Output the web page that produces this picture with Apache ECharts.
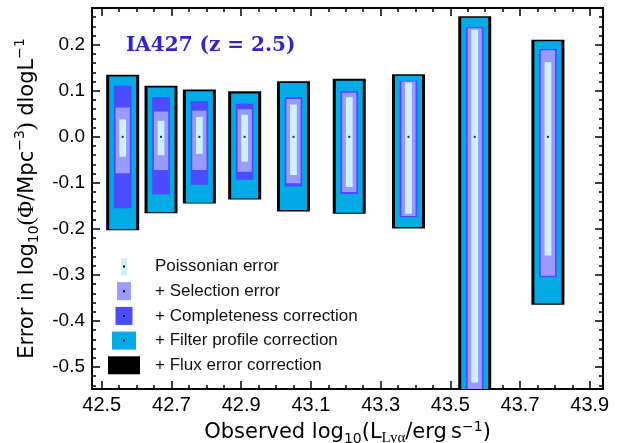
<!DOCTYPE html>
<html>
<head>
<meta charset="utf-8">
<script src="https://cdn.jsdelivr.net/npm/echarts@6/dist/echarts.min.js"></script>
<style>
  html, body { margin: 0; padding: 0; background: #fff; }
  #chart { width: 620px; height: 443px; }
</style>
</head>
<body>
<div id="chart"></div>
<script>
// Luminosity bin centres, log10(L / erg s^-1)
const binCenters = [42.56, 42.67, 42.78, 42.91, 43.05, 43.21, 43.38, 43.57, 43.78];

// Cumulative error budgets (upper / lower) in log10(Phi)
const poissonUp   = [0.038, 0.035, 0.043, 0.048, 0.070, 0.086, 0.118, 0.233, 0.162];
const poissonLow  = [-0.043, -0.040, -0.037, -0.054, -0.083, -0.109, -0.167, -0.534, -0.258];
const selectionUp  = [0.064, 0.055, 0.057, 0.060, 0.082, 0.096, 0.120, 0.236, 0.188];
const selectionLow = [-0.079, -0.072, -0.072, -0.076, -0.101, -0.120, -0.172, -0.600, -0.302];
const completenessUp  = [0.111, 0.086, 0.078, 0.072, 0.086, 0.099, 0.122, 0.238, 0.191];
const completenessLow = [-0.155, -0.125, -0.104, -0.093, -0.108, -0.124, -0.175, -0.620, -0.305];
const filterUp  = [0.131, 0.107, 0.099, 0.094, 0.117, 0.122, 0.133, 0.259, 0.208];
const filterLow = [-0.201, -0.164, -0.143, -0.134, -0.159, -0.165, -0.196, -0.700, -0.362];
const fluxUp  = [0.135, 0.111, 0.103, 0.099, 0.121, 0.126, 0.136, 0.262, 0.211];
const fluxLow = [-0.203, -0.166, -0.145, -0.136, -0.162, -0.167, -0.199, -0.720, -0.365];

// Axis tick labels
const xTickLabels = [42.5, 42.7, 42.9, 43.1, 43.3, 43.5, 43.7, 43.9];
const yTickLabels = [-0.5, -0.4, -0.3, -0.2, -0.1, 0.0, 0.1, 0.2];

const layerNames = [
  'Poissonian error',
  '+ Selection error',
  '+ Completeness correction',
  '+ Filter profile correction',
  '+ Flux error correction'
];
const panelTitle = 'IA427 (z = 2.5)';

// ---- styling ----
const X_MIN = 42.472, X_MAX = 43.938;
const Y_MIN = -0.548, Y_MAX = 0.280;
const SANS = '"Liberation Sans", Arial, Helvetica, sans-serif';
const WIDE_SANS = '"DejaVu Sans", "Liberation Sans", sans-serif';
const SERIF = '"Liberation Serif", "Times New Roman", serif';

// drawn back to front: widest (flux) first
const layers = [
  { name: layerNames[4], up: fluxUp, low: fluxLow, color: '#000000', halfW: 16.5, legendW: 32 },
  { name: layerNames[3], up: filterUp, low: filterLow, color: '#00abe6', halfW: 13.5, legendW: 24 },
  { name: layerNames[2], up: completenessUp, low: completenessLow, color: '#4b4bff', halfW: 8.8, legendW: 17 },
  { name: layerNames[1], up: selectionUp, low: selectionLow, color: '#9a9aff', halfW: 7.1, legendW: 14 },
  { name: layerNames[0], up: poissonUp, low: poissonLow, color: '#cdf2fe', halfW: 3.4, legendW: 6 }
];

function minorSteps(lo, hi, step) {
  const out = [];
  const start = Math.ceil(lo / step) * step;
  for (let v = start; v <= hi + 1e-9; v += step) out.push(Math.round(v * 1000) / 1000);
  return out;
}
const xMinor = minorSteps(X_MIN, X_MAX, 0.05);
const yMinor = minorSteps(Y_MIN, Y_MAX, 0.02);

const tickLine = { color: '#000', width: 1.5 };
const frameLine = { color: '#000', width: 2 };

function xAxis(pos, ticks, len, withLabels, extra) {
  return Object.assign({
    type: 'value', gridIndex: 0, position: pos, min: X_MIN, max: X_MAX,
    axisLine: { show: true, onZero: false, lineStyle: frameLine },
    axisTick: { show: true, inside: true, length: len, customValues: ticks, lineStyle: tickLine },
    axisLabel: withLabels ? {
      show: true, customValues: ticks, margin: 6, fontFamily: SANS, fontSize: 20, color: '#000',
      formatter: v => v.toFixed(1)
    } : { show: false },
    splitLine: { show: false }
  }, extra || {});
}
function yAxis(pos, ticks, len, withLabels, extra) {
  return Object.assign({
    type: 'value', gridIndex: 0, position: pos, min: Y_MIN, max: Y_MAX,
    axisLine: { show: true, onZero: false, lineStyle: frameLine },
    axisTick: { show: true, inside: true, length: len, customValues: ticks, lineStyle: tickLine },
    axisLabel: withLabels ? {
      show: true, customValues: ticks, margin: 7, fontFamily: SANS, fontSize: 19, color: '#000',
      formatter: v => v.toFixed(1)
    } : { show: false },
    splitLine: { show: false }
  }, extra || {});
}

const xName = {
  name: 'Observed log{s|10}(L{l|Lyα}/erg\u2009s{p|\u22121})',
  nameLocation: 'middle', nameGap: 25,
  nameTextStyle: {
    fontFamily: WIDE_SANS, fontSize: 21, lineHeight: 26, color: '#000',
    rich: {
      s: { fontFamily: WIDE_SANS, fontSize: 14, lineHeight: 14, verticalAlign: 'bottom', color: '#000' },
      l: { fontFamily: SERIF, fontSize: 15, lineHeight: 14, verticalAlign: 'bottom', color: '#000' },
      p: { fontFamily: WIDE_SANS, fontSize: 14, lineHeight: 14, verticalAlign: 'top', color: '#000' }
    }
  }
};
const yName = {
  name: 'Error in log{s|10}{f|(Φ}/Mpc{p|\u22123}{f|)} dlogL{p|\u22121}',
  nameLocation: 'middle', nameGap: 46, nameRotate: 90,
  nameTextStyle: {
    fontFamily: WIDE_SANS, fontSize: 21, lineHeight: 28, color: '#000',
    rich: {
      s: { fontFamily: WIDE_SANS, fontSize: 14, lineHeight: 15, verticalAlign: 'bottom', color: '#000' },
      f: { fontFamily: SERIF, fontSize: 23, lineHeight: 28, color: '#000' },
      p: { fontFamily: WIDE_SANS, fontSize: 14, lineHeight: 15, verticalAlign: 'top', color: '#000' }
    }
  }
};

function rectRenderer(halfW, color) {
  return function (params, api) {
    const x = api.value(0);
    const top = api.coord([x, api.value(1)]);
    const bot = api.coord([x, api.value(2)]);
    const cs = params.coordSys;
    const shape = echarts.graphic.clipRectByRect(
      { x: top[0] - halfW, y: top[1], width: 2 * halfW, height: bot[1] - top[1] },
      { x: cs.x, y: cs.y, width: cs.width, height: cs.height }
    );
    if (!shape) return;
    return { type: 'rect', shape: shape, style: { fill: color } };
  };
}

const series = layers.map(L => ({
  type: 'custom',
  name: L.name,
  xAxisIndex: 0, yAxisIndex: 0,
  data: binCenters.map((x, i) => [x, L.up[i], L.low[i]]),
  renderItem: rectRenderer(L.halfW, L.color),
  silent: true
}));
series.push({
  type: 'scatter', xAxisIndex: 0, yAxisIndex: 0,
  symbol: 'rect', symbolSize: 2,
  itemStyle: { color: '#000' },
  data: binCenters.map(x => [x, 0]),
  silent: true, z: 5
});

// legend drawn as a stacked list, top (Poissonian) to bottom (flux)
const legendRows = layers.slice().reverse();
const legendX = 124, legendTextX = 155, legendY0 = 266.5, legendDy = 24.7;
const legendHeights = [17, 18, 18, 18, 18];
const legendChildren = [];
legendRows.forEach((L, i) => {
  const cy = legendY0 + i * legendDy;
  const h = legendHeights[i];
  legendChildren.push({
    type: 'rect', shape: { x: legendX - L.legendW / 2, y: cy - h / 2, width: L.legendW, height: h },
    style: { fill: L.color }
  });
  legendChildren.push({
    type: 'rect', shape: { x: legendX - 1, y: cy - 1, width: 2, height: 2 },
    style: { fill: '#000' }
  });
  legendChildren.push({
    type: 'text', x: legendTextX, y: cy,
    style: { text: L.name, fontFamily: SANS, fontSize: 17, fill: '#111', verticalAlign: 'middle', align: 'left' }
  });
});

const option = {
  animation: false,
  backgroundColor: '#fff',
  grid: { left: 92, right: 17, top: 8, bottom: 54, outerBoundsMode: 'none', containLabel: false },
  xAxis: [
    xAxis('bottom', xTickLabels, 8, true, xName),
    xAxis('bottom', xMinor, 4, false),
    xAxis('top', xTickLabels, 8, false),
    xAxis('top', xMinor, 4, false)
  ],
  yAxis: [
    yAxis('left', yTickLabels, 8, true, yName),
    yAxis('left', yMinor, 4, false),
    yAxis('right', yTickLabels, 8, false),
    yAxis('right', yMinor, 4, false)
  ],
  series: series,
  graphic: [
    {
      type: 'text', x: 126, y: 46, z: 10,
      style: {
        text: panelTitle, fontFamily: '"DejaVu Serif", serif', fontWeight: 'bold', fontSize: 20,
        fill: '#3522cc', verticalAlign: 'middle', align: 'left'
      }
    },
    { type: 'group', z: 10, children: legendChildren }
  ]
};

const chart = echarts.init(document.getElementById('chart'), null, { renderer: 'canvas' });
chart.setOption(option);
</script>
</body>
</html>
